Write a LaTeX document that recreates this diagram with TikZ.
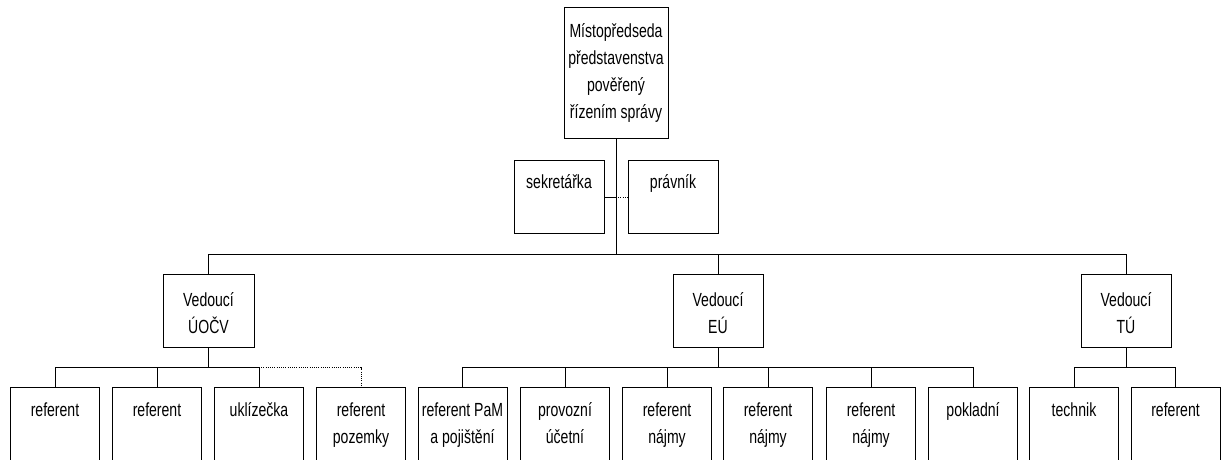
\documentclass[tikz,border=0pt]{standalone}
\usepackage{fontspec}
\setmainfont{Liberation Sans}[FakeStretch=0.74]
\begin{document}
\begin{tikzpicture}[x=1pt,y=-1pt,
  box/.style={draw, line width=0.9pt, inner sep=0pt, anchor=north, minimum width=90pt, minimum height=73pt},
  leaf/.style={box, minimum width=89pt, minimum height=110pt},
  txt/.style={anchor=base, align=center, inner sep=0pt, font=\fontsize{19}{27}\selectfont},
  link/.style={line width=0.9pt},
  aux/.style={line width=0.9pt, dash pattern=on 1pt off 1.2pt}]
\useasboundingbox (0,0) rectangle (1221,459);
\clip (0,0) rectangle (1221,459);
% top level (base anchor of a multi-line text is its last line)
\node[box, minimum width=104pt, minimum height=131pt] (top) at (616,7) {};
\node[txt] at ([yshift=-111pt]top.north) {Místopředseda\\představenstva\\pověřený\\řízením správy};
\node[box] (sek) at (559,160) {};
\node[txt] at ([yshift=-28pt]sek.north) {sekretářka};
\node[box] (prav) at (673,160) {};
\node[txt] at ([yshift=-28pt]prav.north) {právník};
% heads
\node[box, minimum width=91pt] (v1) at (208.5,274) {};
\node[txt] at ([yshift=-59pt]v1.north) {Vedoucí\\ÚOČV};
\node[box] (v2) at (718,274) {};
\node[txt] at ([yshift=-59pt]v2.north) {Vedoucí\\EÚ};
\node[box] (v3) at (1126,274) {};
\node[txt] at ([yshift=-59pt]v3.north) {Vedoucí\\TÚ};
% leaves
\foreach \n/\cx/\dy/\t in {a1/55/29/referent, a2/157/29/referent, a3/259/29/uklízečka, a4/361/56/{referent\\pozemky},
  b1/462.5/56/{referent PaM\\a pojištění}, b2/565/56/{provozní\\účetní}, b3/667/56/{referent\\nájmy}, b4/768/56/{referent\\nájmy},
  b5/871/56/{referent\\nájmy}, b6/973/29/pokladní, c1/1074/29/technik, c2/1175.5/29/referent}{
  \node[leaf] (\n) at (\cx,387) {};
  \node[txt] at ([yshift=-\dy pt]\n.north) {\t};
}
% connectors top
\coordinate (bus0) at (616,254);
\draw[link] (top.south) -- (top.south |- bus0);
\draw[link] (sek.east) -- (sek.east -| top.south);
\draw[aux] (sek.east -| top.south) -- (prav.west);
\draw[link] (bus0 -| v1.north) -- (bus0 -| v3.north);
\foreach \v in {v1,v2,v3}{\draw[link] (bus0 -| \v.north) -- (\v.north);}
% group buses
\draw[link] (v1.south) -- ++(0,20) coordinate (busA);
\draw[link] (v2.south) -- ++(0,20) coordinate (busB);
\draw[link] (v3.south) -- ++(0,20) coordinate (busC);
\foreach \n in {a1,a2,a3}{\draw[link] (busA) -| (\n.north);}
\draw[aux] (busA -| a3.north) -| (a4.north);
\foreach \n in {b1,b2,b3,b4,b5,b6}{\draw[link] (busB) -| (\n.north);}
\foreach \n in {c1,c2}{\draw[link] (busC) -| (\n.north);}
\end{tikzpicture}
\end{document}
